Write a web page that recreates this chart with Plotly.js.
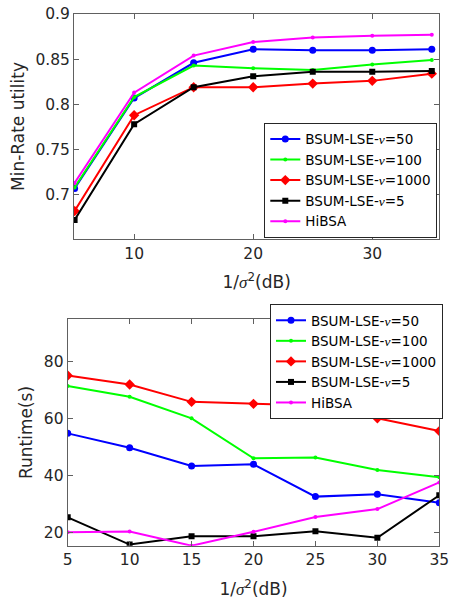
<!DOCTYPE html>
<html>
<head>
<meta charset="utf-8">
<script src="https://cdn.plot.ly/plotly-3.0.1.min.js"></script>
<style>html,body{margin:0;padding:0;background:#fff;}#plot{width:456px;height:602px;}</style>
</head>
<body>
<div id="plot"></div>
<script>
// ---- data ----
const snr = [5, 10, 15, 20, 25, 30, 35];
const seriesNames = ['50', '100', '1000', '5'];
// Min-Rate utility (top panel)
const util_nu50   = [0.707, 0.807, 0.846, 0.861, 0.860, 0.860, 0.861];
const util_nu100  = [0.708, 0.808, 0.843, 0.840, 0.838, 0.844, 0.849];
const util_nu1000 = [0.682, 0.788, 0.819, 0.819, 0.823, 0.826, 0.834];
const util_nu5    = [0.672, 0.778, 0.819, 0.831, 0.836, 0.836, 0.837];
const util_hibsa  = [0.713, 0.813, 0.854, 0.869, 0.874, 0.876, 0.877];
// Runtime in seconds (bottom panel)
const rt_nu50   = [54.8, 49.7, 43.3, 43.9, 32.5, 33.3, 30.3];
const rt_nu100  = [71.5, 67.7, 60.1, 46.0, 46.3, 41.9, 39.3];
const rt_nu1000 = [75.2, 72.0, 65.9, 65.2, 64.6, 60.1, 55.6];
const rt_nu5    = [25.2, 15.6, 18.5, 18.5, 20.3, 18.0, 33.0];
const rt_hibsa  = [19.9, 20.2, 15.2, 20.1, 25.3, 28.1, 37.5];
// tick labels
const topXTicks = [10, 20, 30];
const topYTicks = [0.7, 0.75, 0.8, 0.85, 0.9];
const topYTickText = ['0.7', '0.75', '0.8', '0.85', '0.9'];
const botXTicks = [5, 10, 15, 20, 25, 30, 35];
const botYTicks = [20, 40, 60, 80];

// ---- styling ----
const FONT = 'DejaVu Sans, Liberation Sans, Arial, sans-serif';
const nu = '<i><span style="font-family:Liberation Serif">ν</span></i>';
const lbl = v => 'BSUM-LSE-' + nu + '=' + v;
const styles = [
  {color: '#0000ff', symbol: 'circle', size: 7},
  {color: '#00ff00', symbol: 'circle', size: 4},
  {color: '#ff0000', symbol: 'diamond', size: 8},
  {color: '#000000', symbol: 'square', size: 6},
  {color: '#ff00ff', symbol: 'circle', size: 4}
];
const names = [lbl(seriesNames[0]), lbl(seriesNames[1]), lbl(seriesNames[2]), lbl(seriesNames[3]), 'HiBSA'];
const topY = [util_nu50, util_nu100, util_nu1000, util_nu5, util_hibsa];
const botY = [rt_nu50, rt_nu100, rt_nu1000, rt_nu5, rt_hibsa];

const traces = [];
topY.forEach((y, i) => traces.push({
  x: snr, y: y, xaxis: 'x', yaxis: 'y', type: 'scatter', mode: 'lines+markers',
  name: names[i], legend: 'legend',
  line: {color: styles[i].color, width: 2},
  marker: {color: styles[i].color, symbol: styles[i].symbol, size: styles[i].size}
}));
botY.forEach((y, i) => traces.push({
  x: snr, y: y, xaxis: 'x2', yaxis: 'y2', type: 'scatter', mode: 'lines+markers',
  name: names[i], legend: 'legend2',
  line: {color: styles[i].color, width: 2},
  marker: {color: styles[i].color, symbol: styles[i].symbol, size: styles[i].size}
}));

const axBase = {
  showline: true, linecolor: '#606060', linewidth: 1, mirror: 'ticks',
  ticks: 'inside', ticklen: 5, tickcolor: '#606060', tickwidth: 1,
  showgrid: false, zeroline: false, automargin: false,
  tickfont: {family: FONT, size: 15.5, color: '#262626'},
  tickmode: 'array'
};
const xTitle = {text: '1/<i><span style="font-family:Liberation Serif">σ</span></i><sup>2</sup>(dB)', font: {family: FONT, size: 17, color: '#262626'}, standoff: 14};

const layout = {
  width: 456, height: 602,
  margin: {l: 0, r: 0, t: 0, b: 0, autoexpand: false},
  paper_bgcolor: '#fff', plot_bgcolor: '#fff',
  showlegend: true,
  xaxis: Object.assign({}, axBase, {
    domain: [74/456, 439.3/456], range: [4.95, 35.63], anchor: 'y',
    tickvals: topXTicks, title: xTitle
  }),
  yaxis: Object.assign({}, axBase, {
    domain: [1 - 239/602, 1 - 14/602], range: [0.651, 0.9], anchor: 'x',
    tickvals: topYTicks, ticktext: topYTickText,
    title: {text: 'Min-Rate utility', font: {family: FONT, size: 17, color: '#262626'}, standoff: 6}
  }),
  xaxis2: Object.assign({}, axBase, {
    domain: [67.7/456, 439.3/456], range: [5, 35], anchor: 'y2',
    tickvals: botXTicks, title: xTitle
  }),
  yaxis2: Object.assign({}, axBase, {
    domain: [1 - 545.7/602, 1 - 319.3/602], range: [15.2, 95], anchor: 'x2',
    tickvals: botYTicks,
    title: {text: 'Runtime(s)', font: {family: FONT, size: 17, color: '#262626'}, standoff: 6}
  }),
  legend: {
    x: 437.3/456, xanchor: 'right', y: 1 - 122.7/602, yanchor: 'top',
    bgcolor: '#ffffff', bordercolor: '#262626', borderwidth: 1,
    font: {family: FONT, size: 13.5, color: '#000'}, tracegroupgap: 0
  },
  legend2: {
    x: 270/456, xanchor: 'left', y: 1 - 304/602, yanchor: 'top',
    bgcolor: '#ffffff', bordercolor: '#262626', borderwidth: 1,
    font: {family: FONT, size: 13.5, color: '#000'}, tracegroupgap: 0,
    entrywidth: 160
  }
};

Plotly.newPlot('plot', traces, layout, {staticPlot: true, displayModeBar: false});
</script>
</body>
</html>
